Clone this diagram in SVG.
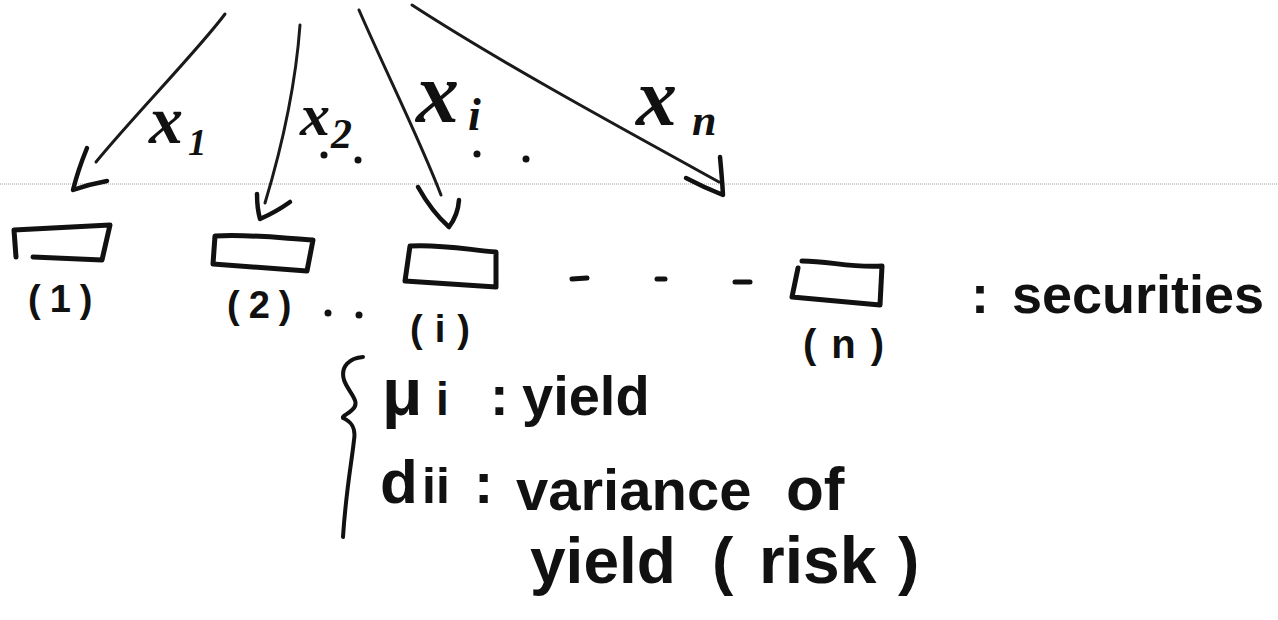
<svg xmlns="http://www.w3.org/2000/svg" width="1278" height="620" viewBox="0 0 1278 620">
<style>
.shaft{fill:none;stroke:#1a1a1a;stroke-width:3;stroke-linecap:round}
.head{fill:none;stroke:#111;stroke-width:4.5;stroke-linecap:round;stroke-linejoin:round}
.box{fill:none;stroke:#111;stroke-width:5;stroke-linecap:round;stroke-linejoin:round}
.brace{fill:none;stroke:#111;stroke-width:4;stroke-linecap:round}
.lbl{font-family:"Liberation Sans",Arial,sans-serif;font-weight:bold;fill:#111}
.var{font-family:"Liberation Serif","Times New Roman",serif;font-style:italic;font-weight:bold;fill:#111}
.rule{stroke:#9a9a9a;stroke-width:1;stroke-dasharray:1 1}
.dot{fill:#111}
.dash{stroke:#111;stroke-width:5;stroke-linecap:round}
</style>
<rect width="1278" height="620" fill="#fff"/>
<line class="rule" x1="0" y1="184" x2="1278" y2="184"/>

<g id="connectors">
  <g id="arrow-1">
    <path class="shaft" d="M225,14 C200,48 130,120 96,162"/>
    <path class="head" d="M87,148 Q78,170 73,190 Q90,184 107,181"/>
    <text class="var" x="149" y="143" font-size="68">x<tspan x="188" y="155" font-size="37">1</tspan></text>
  </g>
  <g id="arrow-2">
    <path class="shaft" d="M300,25 C296,80 284,140 265,203"/>
    <path class="head" d="M257,194 Q257,208 260,219 Q276,212 290,202"/>
    <text class="var" x="300" y="135" font-size="60">x<tspan x="331" y="148" font-size="42">2</tspan></text>
  </g>
  <g id="arrow-3">
    <path class="shaft" d="M359,10 C385,70 420,140 441,195"/>
    <path class="head" d="M418,187 Q432,212 449,227 Q458,215 459,200"/>
    <text class="var" x="416" y="122" font-size="86">x<tspan x="468" y="130" font-size="46">i</tspan></text>
  </g>
  <g id="arrow-n">
    <path class="shaft" d="M412,5 C500,62 610,122 719,182"/>
    <path class="head" d="M720,157 Q722,178 723,195 Q705,188 686,178"/>
    <text class="var" x="636" y="125" font-size="82">x<tspan x="692" y="135" font-size="44">n</tspan></text>
  </g>
</g>

<g id="security-1">
  <path class="box" d="M16,257 L14,230 L110,225 L102,260 L33,257"/>
  <text class="lbl" x="28" y="312" font-size="38" letter-spacing="9">(1)</text>
</g>
<g id="security-2">
  <path class="box" d="M215,236 C250,234 280,238 313,240 L307,271 L213,264 Z"/>
  <text class="lbl" x="227" y="318" font-size="38" letter-spacing="9">(2)</text>
</g>
<g id="security-i">
  <path class="box" d="M410,246 C440,244 470,250 496,252 L496,287 L405,281 Z"/>
  <text class="lbl" x="410" y="342" font-size="38" letter-spacing="12">(i)</text>
</g>
<g id="security-n">
  <path class="box" d="M802,261 C830,261 850,268 882,266 L880,305 L792,297 L798,268"/>
  <text class="lbl" x="803" y="358" font-size="40" letter-spacing="15">(n)</text>
</g>

<g id="ellipses">
  <circle class="dot" cx="324" cy="155" r="3.5"/>
  <circle class="dot" cx="358" cy="160" r="3.5"/>
  <circle class="dot" cx="477" cy="154" r="3.5"/>
  <circle class="dot" cx="526" cy="159" r="3.5"/>
  <circle class="dot" cx="328" cy="313" r="3.5"/>
  <circle class="dot" cx="359" cy="315" r="3.5"/>
  <line class="dash" x1="572" y1="279" x2="587" y2="278"/>
  <line class="dash" x1="657" y1="279" x2="665" y2="279"/>
  <line class="dash" x1="735" y1="282" x2="750" y2="282"/>
</g>

<g id="securities-label">
  <text class="lbl" y="313" font-size="54"><tspan x="971">:</tspan><tspan x="1012">securities</tspan></text>
</g>

<g id="security-attributes">
  <path class="brace" d="M363,357 C350,358 340,366 344,380 C348,392 362,402 352,410 C348,414 342,416 343,418 C352,422 356,428 354,440 C352,460 346,490 343,537"/>
  <text class="lbl" y="415" font-size="56"><tspan x="382" font-size="66">μ</tspan><tspan x="436" font-size="46">i</tspan><tspan x="490">:</tspan><tspan x="522">yield</tspan></text>
  <text class="lbl" y="503" font-size="58"><tspan x="380" font-size="62">d</tspan><tspan x="422" font-size="50">ii</tspan><tspan x="474">:</tspan><tspan x="516" y="510">variance</tspan><tspan x="786" y="510" font-size="62">of</tspan></text>
  <text class="lbl" y="583" font-size="64"><tspan x="530">yield</tspan><tspan x="712">(</tspan><tspan x="759" font-size="66">risk</tspan><tspan x="898">)</tspan></text>
</g>
</svg>
